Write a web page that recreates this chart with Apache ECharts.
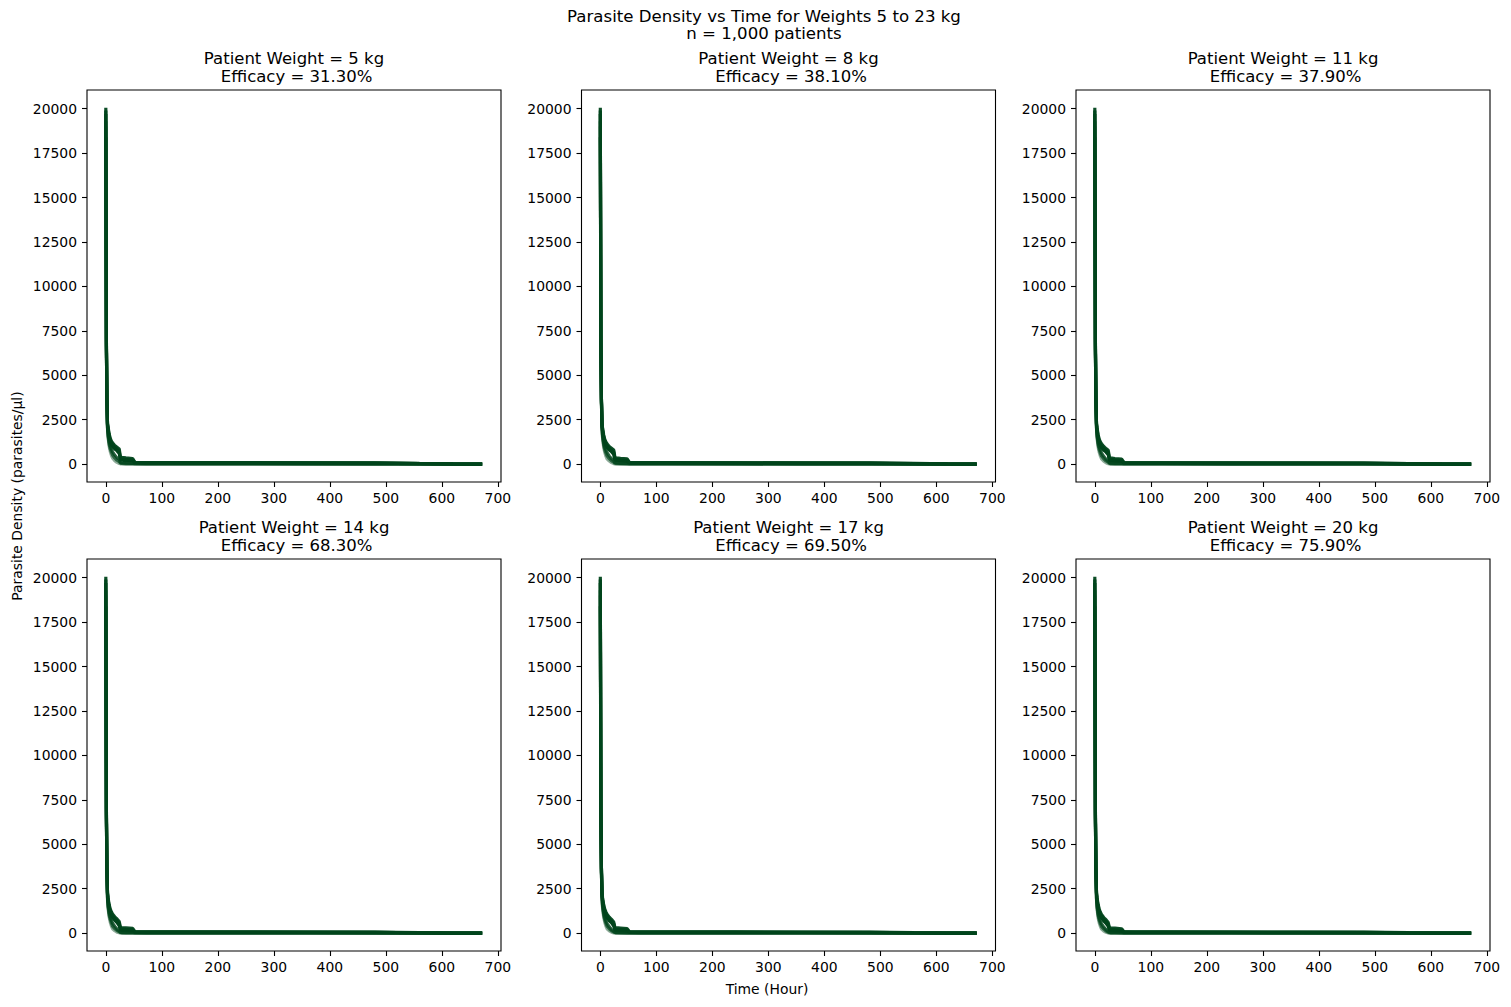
<!DOCTYPE html>
<html>
<head>
<meta charset="utf-8">
<script src="https://cdn.jsdelivr.net/npm/echarts@6/dist/echarts.min.js"></script>
<style>
html,body{margin:0;padding:0;background:#fff;}
#chart{width:1511px;height:1007px;}
</style>
</head>
<body>
<div id="chart"></div>
<script>
// ---- data ----
const weights = [5, 8, 11, 14, 17, 20];
const efficacy = ['31.30%', '38.10%', '37.90%', '68.30%', '69.50%', '75.90%'];
const times = [0,1,2,3,4,6,8,10,12,16,20,24,26,28,36,48,52,72,120,240,360,480,560,620,672];
const xTicks = [0,100,200,300,400,500,600,700];
const yTicks = [0,2500,5000,7500,10000,12500,15000,17500,20000];

const curves_w5 = [
  [19000,6700,3400,2000,1500,1000,700,500,350,200,100,40,20,10,5,0,0,0,0,0,0,0,0,0,0],
  [19300,6650,3450,2050,1600,1120,850,680,520,350,220,140,60,45,30,25,20,15,12,10,8,5,2,0,0],
  [18400,6600,3500,2100,1700,1250,1000,850,700,500,350,250,100,80,60,50,40,35,30,30,25,20,10,5,0],
  [19700,6800,3600,2200,1900,1500,1250,1100,1000,850,750,600,250,220,200,180,80,70,70,65,60,55,30,10,0],
  [19900,7000,3650,2250,2000,1600,1350,1200,1100,950,850,720,330,300,270,250,95,80,80,75,70,65,35,12,2],
  [20050,7200,3700,2300,2100,1700,1450,1300,1200,1050,950,850,420,380,350,320,110,90,90,85,80,75,40,15,5]
];
const curves_w8 = [
  [19000,6600,3400,2000,1450,950,650,450,300,180,90,30,15,8,3,0,0,0,0,0,0,0,0,0,0],
  [19300,6550,3450,2050,1550,1070,800,620,470,310,190,110,50,38,25,20,15,12,10,8,6,4,2,0,0],
  [18400,6500,3500,2100,1650,1200,950,800,650,450,300,200,90,70,50,45,35,30,30,25,20,15,8,3,0],
  [19700,6800,3600,2200,1850,1450,1200,1050,950,800,700,550,230,200,180,160,75,65,65,60,55,50,25,10,0],
  [19900,7000,3650,2250,1950,1550,1300,1150,1050,900,800,680,310,280,250,230,90,75,75,70,65,60,32,12,2],
  [20050,7200,3700,2300,2050,1650,1400,1250,1150,1000,900,800,400,360,330,300,100,85,85,80,75,70,40,15,5]
];
const curves_w11 = [
  [19000,6600,3400,2000,1450,950,650,450,300,170,80,25,12,6,2,0,0,0,0,0,0,0,0,0,0],
  [19300,6550,3450,2050,1550,1070,800,610,460,300,180,100,45,33,22,18,14,11,9,7,5,3,1,0,0],
  [18400,6500,3500,2100,1650,1200,950,780,630,430,280,180,80,60,45,40,30,25,25,20,15,12,6,2,0],
  [19700,6800,3600,2200,1850,1450,1200,1050,930,780,680,530,220,190,170,150,70,60,60,55,50,45,22,8,0],
  [19900,7000,3650,2250,1950,1550,1300,1150,1040,890,780,660,300,270,240,220,85,70,70,65,60,55,28,10,2],
  [20050,7200,3700,2300,2050,1650,1400,1250,1150,1000,880,780,390,350,320,290,95,80,80,75,70,65,35,12,4]
];
const curves_w14 = [
  [19000,6600,3300,1900,1400,900,600,400,250,140,60,20,10,5,0,0,0,0,0,0,0,0,0,0,0],
  [19300,6550,3350,1980,1500,1020,750,560,400,260,140,70,35,22,15,12,10,8,6,5,4,3,1,0,0],
  [18400,6500,3400,2050,1600,1150,900,720,560,380,230,120,60,40,30,25,20,15,15,12,10,8,4,2,0],
  [19700,6800,3600,2200,1800,1400,1150,1000,880,720,600,420,180,160,150,130,65,55,55,50,45,40,20,6,0],
  [19900,7000,3650,2250,1900,1500,1250,1100,980,820,700,540,260,240,220,200,78,65,65,60,55,50,25,8,1],
  [20050,7200,3700,2300,2000,1600,1350,1200,1080,920,800,650,340,320,300,270,90,75,75,70,65,60,30,10,3]
];
const curves_w17 = [
  [19000,6600,3300,1900,1400,900,600,400,250,130,55,18,9,4,0,0,0,0,0,0,0,0,0,0,0],
  [19300,6550,3350,1980,1500,1020,740,550,390,250,130,65,32,20,14,11,9,7,5,4,3,2,1,0,0],
  [18400,6500,3400,2050,1600,1150,880,700,540,360,210,110,55,38,28,22,18,14,14,11,9,7,4,2,0],
  [19700,6800,3600,2200,1800,1400,1150,990,870,700,580,400,170,150,140,120,62,52,52,48,42,38,18,6,0],
  [19900,7000,3650,2250,1900,1500,1250,1090,970,800,680,520,250,230,210,190,74,62,62,58,52,48,23,8,1],
  [20050,7200,3700,2300,2000,1600,1350,1200,1070,900,780,630,330,310,290,260,85,72,72,68,62,58,28,10,3]
];
const curves_w20 = [
  [19000,6600,3300,1900,1350,850,560,370,230,120,50,15,8,3,0,0,0,0,0,0,0,0,0,0,0],
  [19300,6550,3350,1950,1450,970,700,520,370,230,120,55,28,18,12,10,8,6,5,4,3,2,1,0,0],
  [18400,6500,3400,2000,1550,1100,850,680,520,340,200,100,50,35,25,20,15,12,12,10,8,6,3,1,0],
  [19700,6800,3600,2200,1800,1400,1130,970,850,680,560,380,160,140,130,110,60,50,50,45,40,35,16,5,0],
  [19900,7000,3650,2250,1900,1500,1240,1070,950,780,660,490,240,220,200,180,70,60,60,55,50,45,21,7,1],
  [20050,7200,3700,2300,2000,1600,1350,1180,1050,880,760,600,320,300,280,250,80,70,70,65,60,55,26,9,2]
];
const allCurves = [curves_w5, curves_w8, curves_w11, curves_w14, curves_w17, curves_w20];
const curveOpacity = [0.45, 0.7, 0.85, 1.0, 1.0, 0.95];

// ---- layout ----
const colLeft = [87, 581.5, 1076];
const rowTop = [90, 559];
const gw = 414, gh = 392;
const FONT = 'DejaVu Sans';

const grids = [], xAxes = [], yAxes = [], series = [], graphics = [];
for (let i = 0; i < 6; i++) {
  const c = i % 3, r = Math.floor(i / 3);
  grids.push({left: colLeft[c], top: rowTop[r], width: gw, height: gh,
    show: true, borderColor: '#000', borderWidth: 1.1, backgroundColor: 'transparent', containLabel: false});
  xAxes.push({type: 'value', gridIndex: i, min: -33.6, max: 705.6, position: 'bottom',
    axisLine: {show: false, onZero: false}, splitLine: {show: false},
    axisTick: {show: true, inside: false, length: 5, lineStyle: {color: '#000', width: 1.1}, customValues: xTicks},
    axisLabel: {show: true, margin: 9, color: '#000', fontFamily: FONT, fontSize: 13.9, customValues: xTicks,
      formatter: v => String(v)}
  });
  yAxes.push({type: 'value', gridIndex: i, min: -1002.5, max: 21052.5, position: 'left',
    axisLine: {show: false, onZero: false}, splitLine: {show: false},
    axisTick: {show: true, inside: false, length: 5, lineStyle: {color: '#000', width: 1.1}, customValues: yTicks},
    axisLabel: {show: true, margin: 10, color: '#000', fontFamily: FONT, fontSize: 13.9, customValues: yTicks,
      formatter: v => String(v)}
  });
  allCurves[i].forEach((vals, k) => {
    series.push({type: 'line', xAxisIndex: i, yAxisIndex: i, showSymbol: false, symbol: 'none',
      silent: true, animation: false,
      lineStyle: {color: '#00441b', width: 3.2, opacity: curveOpacity[k]},
      data: times.map((t, j) => [t, vals[j]])});
  });
  const cx = colLeft[c] + gw / 2;
  const ty = r === 0 ? 49 : 518;
  graphics.push({type: 'text', x: cx, y: ty, style: {
    text: 'Patient Weight = ' + weights[i] + ' kg\n Efficacy = ' + efficacy[i],
    fill: '#000', font: '16.5px "' + FONT + '"', textAlign: 'center', textVerticalAlign: 'top', lineHeight: 18.5}});
}
graphics.push({type: 'text', x: 764, y: 8, style: {
  text: 'Parasite Density vs Time for Weights 5 to 23 kg\nn = 1,000 patients',
  fill: '#000', font: '16.6px "' + FONT + '"', textAlign: 'center', textVerticalAlign: 'top', lineHeight: 17}});
graphics.push({type: 'text', x: 767, y: 982, style: {
  text: 'Time (Hour)', fill: '#000', font: '13.9px "' + FONT + '"', textAlign: 'center', textVerticalAlign: 'top'}});
graphics.push({type: 'text', x: 10, y: 496, rotation: Math.PI / 2, style: {
  text: 'Parasite Density (parasites/µl)', fill: '#000', font: '13.9px "' + FONT + '"', textAlign: 'center', textVerticalAlign: 'top'}});

const chart = echarts.init(document.getElementById('chart'), null, {renderer: 'svg'});
chart.setOption({
  animation: false,
  backgroundColor: '#fff',
  grid: grids, xAxis: xAxes, yAxis: yAxes, series: series,
  graphic: graphics
});
</script>
</body>
</html>
